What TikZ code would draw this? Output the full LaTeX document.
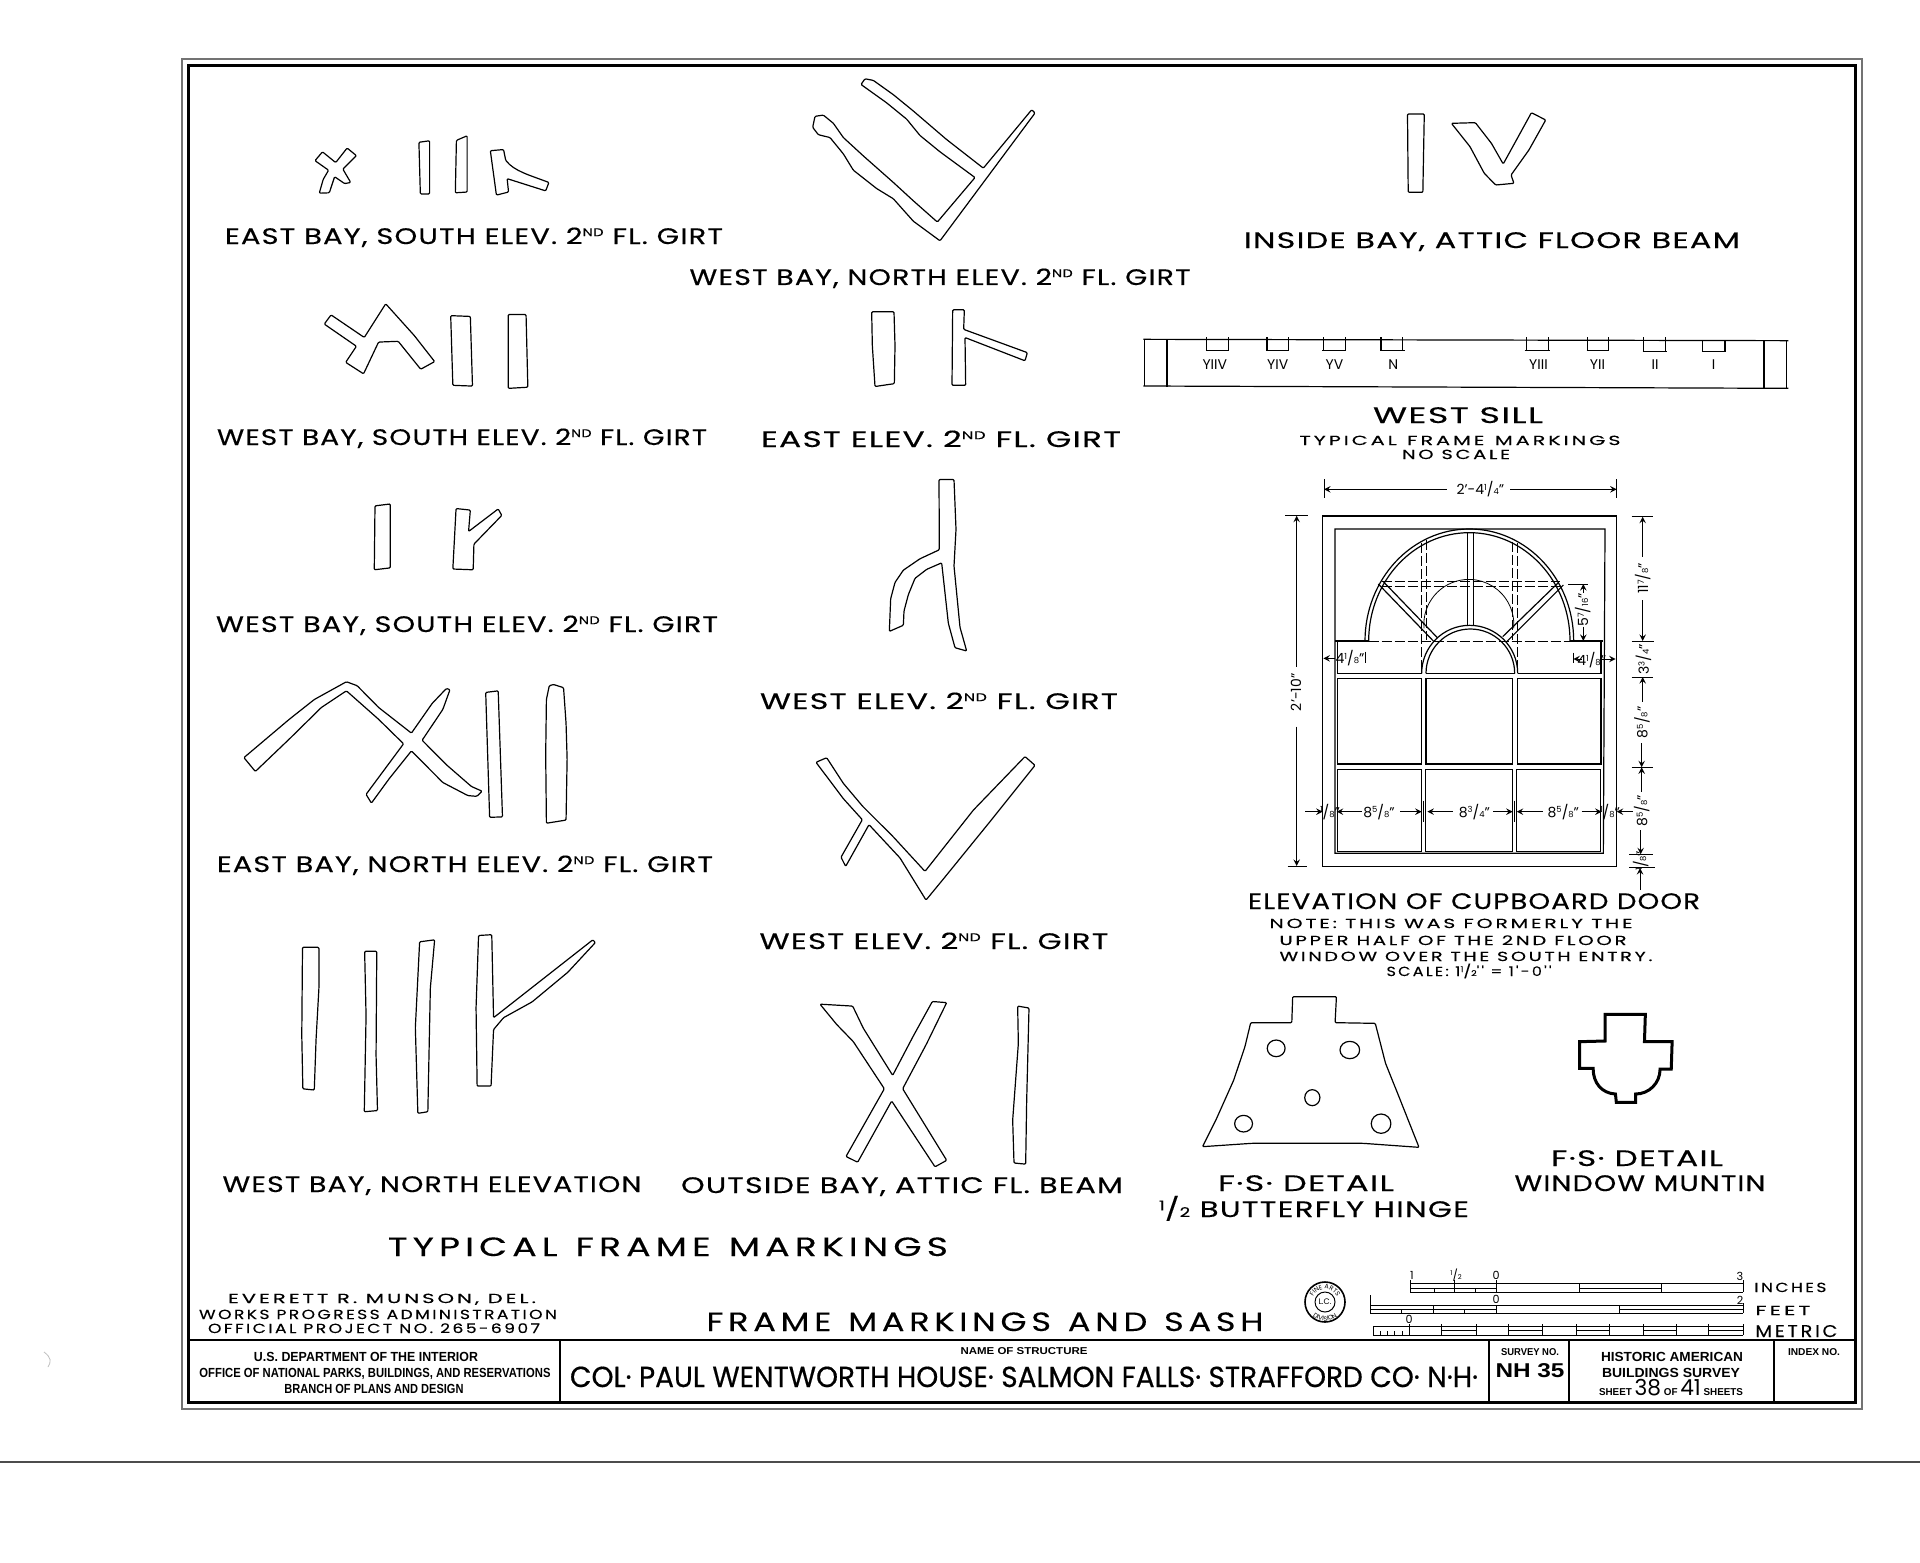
\documentclass[tikz,border=0pt]{standalone}
\usepackage{graphicx}
\usepackage{fontspec}
\usetikzlibrary{decorations.text}
\setmainfont{Poppins}
\newfontfamily\draftfont[FakeBold=0.3,LetterSpace=4]{Poppins}
\newfontfamily\spacedfont[FakeBold=0.2,LetterSpace=14]{Poppins}
\newfontfamily\housefont[FakeBold=0.5]{Poppins}
\newfontfamily\blockfont{Liberation Sans}
\newcommand{\fitw}[2]{\resizebox{\dimexpr #1pt/2\relax}{\height}{#2}}
\newcommand{\nd}{2\raisebox{.35em}{\scalebox{.5}{ND}}}
\newcommand{\fr}[2]{\raisebox{.3em}{\scalebox{.6}{#1}}/\scalebox{.6}{#2}}
\begin{document}
\begin{tikzpicture}[x=0.5pt, y=-0.5pt, >=stealth,
        tally/.style={draw, line width=0.6pt, line join=round, rounded corners=0.5pt},
        sash/.style={draw, line width=0.6pt},
        sashdash/.style={line width=0.5pt, dash pattern=on 5pt off 1.5pt},
        dimline/.style={line width=0.45pt},
        caption/.style={anchor=base, inner sep=0pt, font=\draftfont\fontsize{11.2}{13}\selectfont},
        bigcaption/.style={anchor=base, inner sep=0pt, font=\spacedfont\fontsize{13.2}{15}\selectfont},
        note/.style={anchor=base, inner sep=0pt, font=\spacedfont\fontsize{6.6}{8}\selectfont},
        dimtext/.style={inner sep=0pt, font=\normalfont\fontsize{7}{8}\selectfont},
        scaletext/.style={inner sep=0pt, font=\normalfont\fontsize{5.6}{7}\selectfont},
        block/.style={anchor=base, inner sep=0pt, font=\blockfont\bfseries\fontsize{6.6}{8}\selectfont},
        crop/.style n args={4}{shift={(#1,#2)}, xscale=1/#3, yscale=1/#4}]

    \useasboundingbox (0,0) rectangle (1920,1562);
    \fill[white] (0,0) rectangle (1920,1562);

    % sheet edge and frame
    \draw[black!70, line width=0.7pt] (0,1462) -- (1920,1462);
    \draw[black!25, line width=0.4pt] (44,1352) .. controls (52,1358) and (51,1362) .. (48,1367);
    \draw[black!55, line width=0.7pt] (182,59) rectangle (1862,1409);
    \draw[line width=1.5pt] (188,66) rectangle (1855,1402);
    \draw[line width=1.2pt] (188,1340) -- (1855,1340);
    \draw[line width=0.8pt] (560,1340) -- (560,1402);
    \draw[line width=0.8pt] (1489,1340) -- (1489,1402);
    \draw[line width=0.8pt] (1569,1340) -- (1569,1402);
    \draw[line width=0.8pt] (1774,1340) -- (1774,1402);

    % marks, left column, top
    \begin{scope}[crop={200}{60}{2.8}{2.613}]
        \draw[tally] (322,263) -- (343,240) -- (380,268) -- (412,230) -- (438,250) -- (400,285) -- (422,320) -- (405,323) -- (377,305) -- (362,347) -- (334,348) -- (345,312) -- (360,288) -- cycle;
        \draw[tally] (613,215) -- (643,211) -- (643,350) -- (617,350) -- cycle;
        \draw[tally] (718,210) -- (748,198) -- (748,345) -- (715,347) -- cycle;
        \draw[tally] (813,237) -- (850,234) -- (856,262) .. controls (880,290) and (920,300) .. (977,320) -- (968,342) -- (860,310) -- (864,345) -- (830,353) -- cycle;
        \draw[tally] (348,690) -- (367,666) -- (460,725) -- (520,637) -- (600,720) -- (657,788) -- (618,808) -- (555,735) -- (500,737) -- (458,820) -- (408,790) -- (438,748) -- cycle;
        \draw[tally] (702,668) -- (757,670) -- (763,852) -- (708,850) -- cycle;
        \draw[tally] (863,665) -- (913,665) -- (918,855) -- (863,858) -- cycle;
        \draw[tally] (490,1165) -- (533,1160) -- (533,1327) -- (488,1332) -- cycle;
        \draw[tally] (717,1172) -- (757,1176) -- (752,1232) -- (835,1173) -- (845,1190) -- (767,1265) -- (765,1332) -- (708,1330) -- cycle;
    \end{scope}

    % marks, left column, bottom
    \begin{scope}[crop={200}{660}{2.8}{2.53}]
        \draw[tally] (123,247) -- (250,150) -- (320,100) -- (410,55) -- (440,65) -- (500,120) -- (592,185) -- (650,110) -- (690,72) -- (700,75) -- (680,125) -- (622,203) -- (690,265) -- (760,320) -- (790,332) -- (775,345) -- (750,343) -- (680,310) -- (592,230) -- (530,300) -- (480,362) -- (465,340) -- (570,212) -- (500,150) -- (410,78) -- (340,120) -- (250,200) -- (155,282) -- cycle;
        \draw[tally] (800,82) -- (835,78) -- (847,397) -- (811,398) -- cycle;
        \draw[tally] (978,65) -- (990,62) -- (1018,70) -- (1025,160) -- (1028,250) -- (1025,405) -- (970,413) -- (968,240) -- (970,100) -- cycle;
        \draw[tally] (287,727) -- (333,727) -- (333,830) -- (325,960) -- (320,1088) -- (288,1085) -- (285,950) -- cycle;
        \draw[tally] (461,737) -- (495,737) -- (493,1000) -- (497,1140) -- (460,1143) -- (465,900) -- cycle;
        \draw[tally] (615,713) -- (657,708) -- (645,830) -- (638,1143) -- (610,1147) -- (603,930) -- cycle;
        \draw[tally] (780,697) -- (817,695) -- (822,905) -- (1100,708) -- (1107,715) -- (1030,790) -- (930,865) -- (850,905) -- (822,935) -- (815,1078) -- (776,1078) -- (773,880) -- cycle;
    \end{scope}

    % marks, middle column, top
    \begin{scope}[crop={680}{60}{3}{2.45}]
        \draw[tally] (543,60) -- (555,46) -- (580,50) -- (640,85) -- (700,125) -- (800,195) -- (910,265) -- (1055,122) -- (1065,130) -- (780,443) -- (700,395) -- (640,340) -- (590,315) -- (520,270) -- (490,230) -- (450,190) -- (415,183) -- (398,165) -- (405,138) -- (430,135) -- (460,155) -- (490,190) -- (550,235) -- (640,300) -- (700,345) -- (772,397) -- (885,288) -- (780,225) -- (720,185) -- (680,145) -- (620,105) -- cycle;
        \draw[tally] (575,617) -- (642,617) -- (645,700) -- (643,793) -- (585,800) -- (577,700) -- cycle;
        \draw[tally] (818,612) -- (853,612) -- (851,660) -- (1042,717) -- (1035,737) -- (855,680) -- (857,797) -- (816,797) -- cycle;
        \draw[tally] (777,1028) -- (822,1028) -- (828,1150) -- (822,1240) -- (840,1390) -- (860,1448) -- (825,1440) -- (805,1380) -- (785,1232) -- (740,1248) -- (705,1270) -- (685,1310) -- (672,1350) -- (670,1385) -- (628,1400) -- (632,1320) -- (645,1280) -- (670,1250) -- (720,1222) -- (778,1200) -- cycle;
    \end{scope}

    % marks, middle column, bottom
    \begin{scope}[crop={680}{680}{3}{2.613}]
        \draw[tally] (408,215) -- (440,203) -- (490,270) -- (548,330) -- (640,410) -- (735,500) -- (880,340) -- (1035,200) -- (1065,223) -- (930,370) -- (790,520) -- (738,575) -- (660,465) -- (567,378) -- (497,487) -- (483,463) -- (547,365) -- (490,310) -- cycle;
        \draw[tally] (420,847) -- (518,852) -- (550,910) -- (638,1033) -- (700,930) -- (757,840) -- (800,843) -- (740,950) -- (668,1068) -- (800,1255) -- (765,1272) -- (635,1100) -- (533,1260) -- (498,1245) -- (613,1068) -- (520,945) -- (470,900) -- cycle;
        \draw[tally] (1013,852) -- (1047,857) -- (1040,1100) -- (1037,1265) -- (1002,1262) -- (998,1150) -- (1015,950) -- cycle;
    \end{scope}

    % attic floor beam marks
    \begin{scope}[crop={1220}{80}{2.8}{3}]
        \draw[tally] (525,102) -- (572,102) -- (568,337) -- (527,337) -- cycle;
        \draw[tally] (648,130) -- (715,128) -- (760,190) -- (793,252) -- (830,180) -- (872,98) -- (912,120) -- (865,210) -- (815,285) -- (823,310) -- (772,315) -- (740,280) -- (700,200) -- cycle;
    \end{scope}

    % west sill
    \begin{scope}[crop={1130}{320}{2.24}{3}]
        \draw[tally] (30,58) -- (1475,62);
        \draw[tally] (30,198) -- (1475,205);
        \draw[tally] (32,58) -- (32,198);
        \draw[tally] (83,58) -- (83,200);
        \draw[tally] (1420,60) -- (1420,204);
        \draw[tally] (1470,62) -- (1470,205);
        \draw[tally] (172,52) -- (172,92) (220,52) -- (220,92) (170,92) -- (222,92);
        \draw[tally] (307,52) -- (307,92) (355,52) -- (355,92) (305,92) -- (357,92);
        \draw[tally] (433,52) -- (433,92) (482,52) -- (482,92) (431,92) -- (484,92);
        \draw[tally] (562,52) -- (562,92) (610,52) -- (610,92) (560,92) -- (616,92);
        \draw[tally] (888,52) -- (888,92) (938,52) -- (938,92) (884,92) -- (940,92);
        \draw[tally] (1025,52) -- (1025,92) (1072,52) -- (1072,92) (1023,92) -- (1074,92);
        \draw[tally] (1150,52) -- (1150,94) (1200,52) -- (1200,94) (1148,94) -- (1202,94);
        \draw[tally] (1283,60) -- (1283,95) (1333,60) -- (1333,95) (1281,95) -- (1336,95);
        \node[dimtext] (sillA) at (190,133) {YIIV};
        \node[dimtext] (sillB) at (331,133) {YIV};
        \node[dimtext] (sillC) at (458,133) {YV};
        \node[dimtext] (sillD) at (590,133) {N};
        \node[dimtext] (sillE) at (915,135) {YIII};
        \node[dimtext] (sillF) at (1047,135) {YII};
        \node[dimtext] (sillG) at (1176,135) {II};
        \node[dimtext] (sillH) at (1307,135) {I};
    \end{scope}

    % cupboard door
    \begin{scope}[crop={1220}{460}{3}{3}]
        \draw[sash] (308,168) rectangle (1190,1220);
        \draw[sash] (345,207) -- (1155,207) -- (1150,1180) -- (345,1180) -- cycle;
        \draw[sash] (435,543) arc[start angle=180, end angle=360, x radius=313, y radius=336];
        \draw[sash] (446,543) arc[start angle=180, end angle=360, x radius=302, y radius=325];
        \draw[sash] (345,543) -- (446,543);
        \draw[sash] (1050,543) -- (1150,543);
        \draw[sashdash] (446,545) -- (1050,545);
        \draw[sash] (605,640) arc[start angle=180, end angle=360, radius=144];
        \draw[sash] (618,640) arc[start angle=180, end angle=360, radius=133];
        \draw[sash] (352,543) -- (352,640) -- (605,640);
        \draw[sash] (618,640) -- (884,640);
        \draw[sash] (893,640) -- (1143,640) -- (1143,543);
        \draw[sash] (743,218) -- (743,497);
        \draw[sash] (760,218) -- (760,497);
        \draw[sash] (475,372) -- (640,543);
        \draw[sash] (490,365) -- (652,533);
        \draw[sash] (1030,375) -- (860,545);
        \draw[sash] (1015,368) -- (848,530);
        \draw[sashdash] (485,365) -- (1020,365);
        \draw[sashdash] (485,380) -- (1020,380);
        \draw[sashdash] (605,250) -- (605,640);
        \draw[sashdash] (618,240) -- (618,540);
        \draw[sashdash] (878,245) -- (878,540);
        \draw[sashdash] (893,250) -- (893,640);
        \draw[sash, line width=0.4pt] (612,505) arc[start angle=175, end angle=365, radius=135];
        \draw[sash] (352,655) rectangle (605,912);
        \draw[sash] (618,655) rectangle (877,912);
        \draw[sash] (892,655) rectangle (1143,912);
        \draw[sash] (352,928) rectangle (605,1175);
        \draw[sash] (617,928) rectangle (877,1175);
        \draw[sash] (890,928) rectangle (1142,1175);

        % overall dimensions
        \draw[dimline] (312,58) -- (312,115);
        \draw[dimline] (1190,58) -- (1190,115);
        \draw[dimline,<-] (312,88) -- (680,88);
        \draw[dimline,->] (870,88) -- (1190,88);
        \node[dimtext] (dimwidth) at (781,88) {2'-4\fr{1}{4}''};
        \draw[dimline] (195,167) -- (265,167);
        \draw[dimline] (203,1218) -- (262,1218);
        \draw[dimline,<-] (230,167) -- (230,620);
        \draw[dimline,->] (230,800) -- (230,1218);
        \node[dimtext, rotate=90] (dimheight) at (228,697) {2'-10''};

        % right side chain
        \draw[dimline] (1235,170) -- (1300,170);
        \draw[dimline] (1235,543) -- (1303,543);
        \draw[dimline] (1235,651) -- (1298,651);
        \draw[dimline] (1235,922) -- (1298,922);
        \draw[dimline] (1228,1183) -- (1298,1183);
        \draw[dimline] (1228,1222) -- (1305,1222);
        \draw[dimline,<-] (1268,170) -- (1268,290);
        \draw[dimline,->] (1268,420) -- (1268,543);
        \node[dimtext, rotate=90] (dimhead) at (1268,355) {11\fr{7}{8}''};
        \node[dimtext, rotate=90] (dimrail) at (1270,598) {3\fr{3}{4}''};
        \draw[dimline,<-] (1268,651) -- (1268,725);
        \draw[dimline,->] (1265,850) -- (1265,922);
        \node[dimtext, rotate=90] (dimpanea) at (1266,787) {8\fr{5}{8}''};
        \draw[dimline,<-] (1265,922) -- (1265,995);
        \draw[dimline,->] (1262,1110) -- (1262,1183);
        \node[dimtext, rotate=90] (dimpaneb) at (1265,1052) {8\fr{5}{8}''};
        \node[dimtext, rotate=90] (dimsill) at (1262,1202) {\fr{1}{8}''};
        \draw[dimline,->] (1260,1290) -- (1260,1224);

        % dimensions inside the door
        \draw[dimline] (1045,372) -- (1105,372);
        \draw[dimline,<-] (1090,372) -- (1090,400);
        \draw[dimline,->] (1090,500) -- (1090,543);
        \node[dimtext, rotate=90] (dimarch) at (1088,450) {5\fr{7}{16}''};
        \draw[dimline] (436,575) -- (436,610);
        \draw[dimline] (1060,578) -- (1060,610);
        \draw[dimline,<-] (310,595) -- (345,595);
        \node[dimtext] (dimstilea) at (390,595) {4\fr{1}{8}''};
        \draw[dimline,<-] (1060,597) -- (1085,597);
        \draw[dimline,->] (1145,597) -- (1187,597);
        \node[dimtext] (dimstileb) at (1115,600) {4\fr{1}{8}''};
        \draw[dimline,->] (255,1055) -- (308,1055);
        \node[dimtext] (dimgapa) at (330,1055) {\fr{1}{8}''};
        \draw[dimline,<-] (350,1055) -- (425,1055);
        \node[dimtext] (dimsasha) at (477,1055) {8\fr{5}{8}''};
        \draw[dimline,->] (540,1055) -- (605,1055);
        \draw[dimline] (610,1022) -- (610,1085);
        \draw[dimline,<-] (622,1055) -- (700,1055);
        \node[dimtext] (dimsashb) at (763,1055) {8\fr{3}{4}''};
        \draw[dimline,->] (820,1055) -- (878,1055);
        \draw[dimline] (882,1022) -- (882,1085);
        \draw[dimline,<-] (890,1055) -- (970,1055);
        \node[dimtext] (dimsashc) at (1030,1055) {8\fr{5}{8}''};
        \draw[dimline,->] (1085,1055) -- (1145,1055);
        \node[dimtext] (dimgapb) at (1170,1055) {\fr{1}{8}''};
        \draw[dimline,<-] (1190,1055) -- (1240,1055);
    \end{scope}

    % hinge and muntin details
    \begin{scope}[crop={1140}{980}{2.24}{3}]
        \draw[tally] (342,50) -- (440,50) -- (437,128) -- (527,130) -- (550,250) -- (580,350) -- (625,502) -- (500,490) -- (380,490) -- (250,490) -- (140,500) -- (170,420) -- (210,300) -- (235,200) -- (248,128) -- (340,128) -- cycle;
        \draw[tally] (305,205) ellipse [x radius=20, y radius=25];
        \draw[tally] (470,210) ellipse [x radius=22, y radius=26];
        \draw[tally] (386,353) ellipse [x radius=17, y radius=24];
        \draw[tally] (232,431) ellipse [x radius=20, y radius=25];
        \draw[tally] (540,431) ellipse [x radius=22, y radius=29];
        \draw[line width=1.5pt] (1042,103) -- (1132,103) -- (1130,185) -- (1192,185) -- (1190,267) -- (1165,267) .. controls (1165,310) and (1140,342) .. (1110,342) -- (1110,367) -- (1067,367) -- (1065,342) .. controls (1035,340) and (1015,310) .. (1015,265) -- (985,265) -- (985,185) -- (1042,183) -- cycle;
    \end{scope}

    % captions
    \node[caption] (eastsouth) at (474,244) {\fitw{498}{EAST BAY, SOUTH ELEV. \nd\ FL. GIRT}};
    \node[caption] (westsoutha) at (462,445) {\fitw{490}{WEST BAY, SOUTH ELEV. \nd\ FL. GIRT}};
    \node[caption] (westsouthb) at (467,632) {\fitw{502}{WEST BAY, SOUTH ELEV. \nd\ FL. GIRT}};
    \node[caption] (eastnorth) at (465,872) {\fitw{496}{EAST BAY, NORTH ELEV. \nd\ FL. GIRT}};
    \node[caption] (westnorth) at (432,1192) {\fitw{419}{WEST BAY, NORTH ELEVATION}};
    \node[bigcaption] (typical) at (668,1256) {\fitw{560}{TYPICAL\enspace FRAME\enspace MARKINGS}};
    \node[caption] (westnorthgirt) at (940,285) {\fitw{501}{WEST BAY, NORTH ELEV. \nd\ FL. GIRT}};
    \node[caption] (eastelev) at (941,447) {\fitw{360}{EAST ELEV. \nd\ FL. GIRT}};
    \node[caption] (westeleva) at (939,709) {\fitw{358}{WEST ELEV. \nd\ FL. GIRT}};
    \node[caption] (westelevb) at (934,949) {\fitw{349}{WEST ELEV. \nd\ FL. GIRT}};
    \node[caption] (outsidebay) at (902,1193) {\fitw{442}{OUTSIDE BAY, ATTIC FL. BEAM}};
    \node[caption] (insidebay) at (1492,248) {\fitw{496}{INSIDE BAY, ATTIC FLOOR BEAM}};
    \node[caption] (westsill) at (1458,423) {\fitw{170}{WEST SILL}};
    \node[note] (sillnote) at (1460,445) {\fitw{321}{TYPICAL\enspace FRAME\enspace MARKINGS}};
    \node[note] (noscale) at (1456,459) {\fitw{108}{NO SCALE}};
    \node[caption] (elevation) at (1474,909) {\fitw{452}{ELEVATION OF CUPBOARD DOOR}};
    \node[note] (notea) at (1451,928) {\fitw{363}{NOTE: THIS WAS FORMERLY THE}};
    \node[note] (noteb) at (1453,945) {\fitw{347}{UPPER HALF OF THE 2ND FLOOR}};
    \node[note] (notec) at (1466,961) {\fitw{373}{WINDOW OVER THE SOUTH ENTRY.}};
    \node[note] (scaleline) at (1469,976) {\fitw{165}{SCALE: 1\fr{1}{2}'' = 1'-0''}};
    \node[caption] (detaila) at (1306,1191) {\fitw{176}{F·S· DETAIL}};
    \node[caption] (hinge) at (1314,1217) {\fitw{310}{\fr{1}{2} BUTTERFLY HINGE}};
    \node[caption] (detailb) at (1637,1166) {\fitw{172}{F·S· DETAIL}};
    \node[caption] (muntin) at (1640,1191) {\fitw{251}{WINDOW MUNTIN}};

    % lower left credit and sheet title
    \node[note] (credita) at (382,1303) {\fitw{308}{EVERETT R. MUNSON, DEL.}};
    \node[note] (creditb) at (378,1319) {\fitw{358}{WORKS PROGRESS ADMINISTRATION}};
    \node[note] (creditc) at (374,1333) {\fitw{332}{OFFICIAL PROJECT NO. 265-6907}};
    \node[bigcaption] (sheettitle) at (985,1331) {\fitw{557}{FRAME\enspace MARKINGS\enspace AND\enspace SASH}};

    % stamp
    \draw[line width=0.8pt] (1325,1302) circle [radius=20];
    \draw[line width=0.5pt] (1325,1302) circle [radius=10];
    \node[inner sep=0pt, font=\normalfont\fontsize{4}{5}\selectfont] (stampmark) at (1325,1302) {L.C.};
    \path[decorate, decoration={text along path, text align=center, text={|\normalfont\fontsize{3.2}{4}\selectfont|FINE ARTS}}] (1312,1302) arc[start angle=180, end angle=360, radius=13];
    \path[decorate, decoration={text along path, text align=center, text={|\normalfont\fontsize{3.2}{4}\selectfont|DIVISION}}] (1306,1302) arc[start angle=180, end angle=0, radius=19];

    % scales
    \draw[dimline] (1410,1283) -- (1743,1283);
    \draw[dimline] (1410,1292) -- (1743,1292);
    \draw[dimline] (1410,1288) -- (1496,1288);
    \draw[dimline] (1579,1288) -- (1661,1288);
    \draw[dimline] (1410,1280) -- (1410,1292);
    \draw[dimline] (1434,1288) -- (1434,1292);
    \draw[dimline] (1454,1280) -- (1454,1292);
    \draw[dimline] (1475,1288) -- (1475,1292);
    \draw[dimline] (1496,1280) -- (1496,1292);
    \draw[dimline] (1579,1283) -- (1579,1292);
    \draw[dimline] (1661,1283) -- (1661,1292);
    \draw[dimline] (1743,1280) -- (1743,1292);
    \node[scaletext] (inchone) at (1412,1275) {1};
    \node[scaletext] (inchhalf) at (1456,1275) {\fr{1}{2}};
    \node[scaletext] (inchzero) at (1496,1275) {0};
    \node[scaletext] (inchthree) at (1740,1276) {3};
    \node[note, anchor=base west] (inches) at (1754,1292) {\fitw{72}{INCHES}};

    \draw[dimline] (1370,1305) -- (1743,1305);
    \draw[dimline] (1370,1309) -- (1496,1309);
    \draw[dimline] (1619,1309) -- (1743,1309);
    \draw[dimline] (1370,1313) -- (1743,1313);
    \draw[dimline] (1370,1295) -- (1370,1313);
    \draw[dimline] (1401,1309) -- (1401,1313);
    \draw[dimline] (1433,1305) -- (1433,1313);
    \draw[dimline] (1464,1309) -- (1464,1313);
    \draw[dimline] (1496,1305) -- (1496,1313);
    \draw[dimline] (1619,1305) -- (1619,1313);
    \draw[dimline] (1743,1303) -- (1743,1313);
    \node[scaletext] (footzero) at (1496,1299) {0};
    \node[scaletext] (foottwo) at (1740,1300) {2};
    \node[note, anchor=base west] (feet) at (1755,1315) {\fitw{55}{FEET}};

    \draw[dimline] (1373,1326) -- (1743,1326);
    \draw[dimline] (1373,1335) -- (1743,1335);
    \draw[dimline] (1441,1330) -- (1476,1330);
    \draw[dimline] (1508,1330) -- (1542,1330);
    \draw[dimline] (1576,1330) -- (1609,1330);
    \draw[dimline] (1643,1330) -- (1676,1330);
    \draw[dimline] (1708,1330) -- (1743,1330);
    \draw[dimline] (1373,1326) -- (1373,1335);
    \draw[dimline] (1380,1331) -- (1380,1335);
    \draw[dimline] (1387,1331) -- (1387,1335);
    \draw[dimline] (1394,1331) -- (1394,1335);
    \draw[dimline] (1402,1331) -- (1402,1335);
    \draw[dimline] (1409,1324) -- (1409,1335);
    \draw[dimline] (1441,1324) -- (1441,1335);
    \draw[dimline] (1476,1324) -- (1476,1335);
    \draw[dimline] (1508,1324) -- (1508,1335);
    \draw[dimline] (1542,1324) -- (1542,1335);
    \draw[dimline] (1576,1324) -- (1576,1335);
    \draw[dimline] (1609,1324) -- (1609,1335);
    \draw[dimline] (1643,1324) -- (1643,1335);
    \draw[dimline] (1676,1324) -- (1676,1335);
    \draw[dimline] (1708,1324) -- (1708,1335);
    \draw[dimline] (1743,1324) -- (1743,1335);
    \node[scaletext] (metriczero) at (1409,1319) {0};
    \node[note, anchor=base west, font=\spacedfont\fontsize{8.5}{10}\selectfont] (metric) at (1755,1337) {\fitw{82}{METRIC}};

    % title block
    \node[block] (interior) at (366,1361) {\fitw{224}{U.S. DEPARTMENT OF THE INTERIOR}};
    \node[block] (parks) at (375,1377) {\fitw{351}{OFFICE OF NATIONAL PARKS, BUILDINGS, AND RESERVATIONS}};
    \node[block] (branch) at (374,1393) {\fitw{179}{BRANCH OF PLANS AND DESIGN}};
    \node[block, font=\blockfont\bfseries\fontsize{5}{6}\selectfont] (structure) at (1024,1354) {\fitw{127}{NAME OF STRUCTURE}};
    \node[bigcaption, font=\housefont\fontsize{14.5}{16}\selectfont] (house) at (1024,1387) {\fitw{908}{COL· PAUL WENTWORTH HOUSE· SALMON FALLS· STRAFFORD CO· N·H·}};
    \node[block, font=\blockfont\bfseries\fontsize{5}{6}\selectfont] (survey) at (1530,1355) {\fitw{58}{SURVEY NO.}};
    \node[block, font=\blockfont\bfseries\fontsize{10}{12}\selectfont] (surveyno) at (1530,1377) {\fitw{69}{NH 35}};
    \node[block] (historic) at (1672,1361) {\fitw{142}{HISTORIC AMERICAN}};
    \node[block] (buildings) at (1671,1377) {\fitw{138}{BUILDINGS SURVEY}};
    \node[block, font=\blockfont\bfseries\fontsize{5}{6}\selectfont] (sheetno) at (1671,1395) {\fitw{144}{SHEET {\normalfont\fontsize{11}{12}\selectfont 38} OF {\normalfont\fontsize{11}{12}\selectfont 41} SHEETS}};
    \node[block, font=\blockfont\bfseries\fontsize{5}{6}\selectfont] (indexno) at (1814,1355) {\fitw{52}{INDEX NO.}};
\end{tikzpicture}
\end{document}
